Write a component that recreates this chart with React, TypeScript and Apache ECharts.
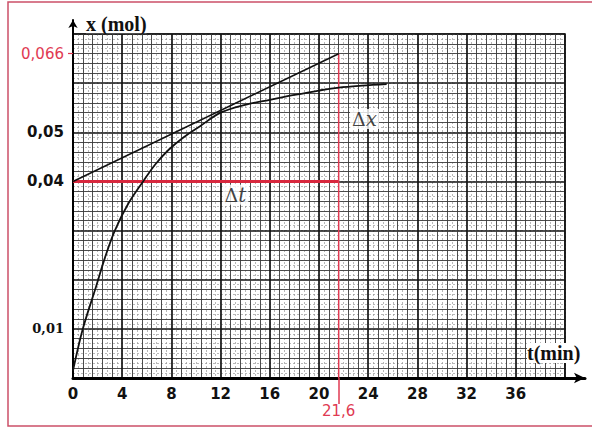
import React, { useEffect, useRef } from "react";
import * as echarts from "echarts";

// Curve x(t)
const T_MIN = [0, 0.8, 1.8, 2.6, 3.4, 4.5, 5.7, 6.7, 7.8, 9, 10.3, 12, 14, 16, 18, 20, 21.6, 23.5, 25.5];
const X_MOL = [0.0015, 0.01, 0.018, 0.0245, 0.03, 0.0355, 0.04, 0.0435, 0.0465, 0.049, 0.0512, 0.054, 0.0556, 0.0566, 0.0576, 0.0585, 0.0591, 0.0595, 0.0598];

// Tangent construction
const TANGENT_T = [0, 21.6];
const TANGENT_X = [0.04, 0.066];
const DELTA_T_T = [0, 21.6];
const DELTA_T_X = [0.04, 0.04];
const DELTA_X_T = [21.6, 21.6];
const DELTA_X_X = [0.066, 0];

// Annotation anchors
const DT_LABEL: [number, number] = [13.2, 0.0373];
const DX_LABEL: [number, number] = [23.7, 0.0527];

// Tick labels
const X_TICKS = [0, 4, 8, 12, 16, 20, 24, 28, 32, 36];
const X_READ = [21.6];
const X_READ_TEXT = ["21,6"];
const Y_TICKS = [0.01, 0.04, 0.05, 0.066];
const Y_TICK_TEXT = ["0,01", "0,04", "0,05", "0,066"];
const Y_TICK_STYLE = ["serif", "sans", "sans", "red"];

const RED = "#e03a52";

export default function App() {
  const ref = useRef<HTMLDivElement>(null);
  useEffect(() => {
    if (!ref.current) return;
    const chart = echarts.init(ref.current, undefined, { renderer: "svg" });
    const paperLeft = 73;
    const paperTop = 34;
    const paperBottom = 51;
    const paperRight = 27;
    const mainTop = 20;
    const mainRight = 7;
    const pxPerMin = (592 - paperLeft - paperRight) / 40;
    const paperH = 429 - paperTop - paperBottom;
    const pxPerMol = paperH / 0.07;
    const mainXMax = (592 - paperLeft - mainRight) / pxPerMin;
    const mainYMax = (429 - mainTop - paperBottom) / pxPerMol;

    const hidden = {
      axisLine: { show: false },
      axisTick: { show: false },
      axisLabel: { show: false },
    };

    const pair = (a: number[], b: number[]) => a.map((v, i) => [v, b[i]]);

    chart.setOption({
      animation: false,
      backgroundColor: "#ffffff",
      grid: [
        {
          left: paperLeft,
          right: paperRight,
          top: paperTop,
          bottom: paperBottom,
          show: true,
          borderColor: "#111",
          borderWidth: 1.6,
          backgroundColor: "transparent",
          containLabel: false,
          outerBoundsMode: "none",
        },
        {
          left: paperLeft,
          right: mainRight,
          top: mainTop,
          bottom: paperBottom,
          containLabel: false,
          outerBoundsMode: "none",
        },
      ],
      xAxis: [
        {
          gridIndex: 0, type: "value", min: 0, max: 40, interval: 0.4, z: 0,
          position: "bottom",
          ...hidden,
          splitLine: { show: true, lineStyle: { color: "#9a9a9a", width: 0.7, type: [2, 2] } },
        },
        {
          gridIndex: 0, type: "value", min: 0, max: 40, interval: 4, z: 1,
          position: "bottom",
          ...hidden,
          splitLine: { show: true, lineStyle: { color: "#151515", width: 1.7 } },
          minorTick: { show: false, splitNumber: 5 },
          minorSplitLine: { show: true, lineStyle: { color: "#3c3c3c", width: 0.9 } },
        },
        {
          gridIndex: 1, type: "value", min: 0, max: mainXMax, z: 3,
          position: "bottom",
          splitLine: { show: false },
          axisLine: {
            show: true,
            onZero: false,
            symbol: ["none", "arrow"],
            symbolSize: [8, 11],
            lineStyle: { color: "#000", width: 3 },
          },
          axisTick: { show: false },
          axisLabel: {
            show: true,
            customValues: X_TICKS,
            margin: 8,
            color: "#111",
            fontFamily: "DejaVu Sans",
            fontWeight: "bold",
            fontSize: 15,
          },
        },
        {
          gridIndex: 1, type: "value", min: 0, max: mainXMax, z: 3,
          position: "bottom",
          offset: 0,
          splitLine: { show: false },
          axisLine: { show: false, onZero: false },
          axisTick: {
            show: true,
            customValues: X_READ,
            length: 26,
            lineStyle: { color: RED, width: 1.5 },
          },
          axisLabel: {
            show: true,
            customValues: X_READ,
            margin: 25,
            color: RED,
            fontFamily: "DejaVu Sans",
            fontSize: 15,
            formatter: (v: number) => {
              const i = X_READ.findIndex((r) => Math.abs(r - v) < 1e-6);
              return i >= 0 ? X_READ_TEXT[i] : "";
            },
          },
        },
      ],
      yAxis: [
        {
          gridIndex: 0, type: "value", min: 0, max: 0.07, interval: 0.001, z: 0,
          position: "left",
          ...hidden,
          splitLine: { show: true, lineStyle: { color: "#9a9a9a", width: 0.7, type: [2, 2] } },
        },
        {
          gridIndex: 0, type: "value", min: 0, max: 0.07, interval: 0.01, z: 1,
          position: "left",
          ...hidden,
          splitLine: { show: true, lineStyle: { color: "#151515", width: 1.7 } },
          minorTick: { show: false, splitNumber: 5 },
          minorSplitLine: { show: true, lineStyle: { color: "#3c3c3c", width: 0.9 } },
        },
        {
          gridIndex: 1, type: "value", min: 0, max: mainYMax, z: 3,
          position: "left",
          splitLine: { show: false },
          axisLine: {
            show: true,
            onZero: false,
            symbol: ["none", "arrow"],
            symbolSize: [7, 8],
            lineStyle: { color: "#000", width: 2 },
          },
          axisTick: {
            show: true,
            customValues: [0.066],
            length: 5,
            lineStyle: { color: RED, width: 1.2 },
          },
          axisLabel: {
            show: true,
            customValues: Y_TICKS,
            margin: 9,
            formatter: (v: number) => {
              const i = Y_TICKS.findIndex((y) => Math.abs(y - v) < 1e-9);
              if (i < 0) return "";
              return `{${Y_TICK_STYLE[i]}|${Y_TICK_TEXT[i]}}`;
            },
            rich: {
              sans: { fontFamily: "DejaVu Sans", fontWeight: "bold", fontSize: 15, color: "#111" },
              serif: { fontFamily: "DejaVu Serif", fontWeight: "bold", fontSize: 13, color: "#111" },
              red: { fontFamily: "DejaVu Sans", fontSize: 15, color: RED },
            },
          },
        },
      ],
      series: [
        {
          name: "Δt",
          type: "line",
          xAxisIndex: 2, yAxisIndex: 2,
          data: pair(DELTA_T_T, DELTA_T_X),
          showSymbol: false,
          lineStyle: { color: "#d8283e", width: 3 },
          z: 4,
        },
        {
          name: "Δx",
          type: "line",
          xAxisIndex: 2, yAxisIndex: 2,
          data: pair(DELTA_X_T, DELTA_X_X),
          showSymbol: false,
          lineStyle: { color: RED, width: 1.5 },
          z: 4,
        },
        {
          name: "tangente",
          type: "line",
          xAxisIndex: 2, yAxisIndex: 2,
          data: pair(TANGENT_T, TANGENT_X),
          showSymbol: false,
          lineStyle: { color: "#111", width: 1.6 },
          z: 5,
        },
        {
          name: "x(t)",
          type: "line",
          xAxisIndex: 2, yAxisIndex: 2,
          data: pair(T_MIN, X_MOL),
          smooth: 0.35,
          showSymbol: false,
          lineStyle: { color: "#111", width: 1.8 },
          z: 5,
        },
        {
          name: "labels",
          type: "scatter",
          xAxisIndex: 2, yAxisIndex: 2,
          symbolSize: 1,
          itemStyle: { color: "rgba(0,0,0,0)" },
          z: 6,
          data: [
            { value: DT_LABEL, label: { formatter: "{d|Δ}{v|t}" } },
            { value: DX_LABEL, label: { formatter: "{d|Δ}{v|x}" } },
          ],
          label: {
            show: true,
            position: "inside",
            backgroundColor: "#ffffff",
            padding: [0, 2],
            rich: {
              d: { fontFamily: "DejaVu Serif", fontSize: 19, color: "#111" },
              v: { fontFamily: "DejaVu Serif", fontStyle: "italic", fontSize: 20, color: "#111" },
            },
          },
        },
      ],
      graphic: [
        {
          type: "rect",
          shape: { x: 8, y: 2, width: 590, height: 424 },
          style: { fill: "none", stroke: "#cc5068", lineWidth: 1.5 },
          silent: true,
        },
        {
          type: "text",
          x: 86,
          y: 24,
          style: {
            text: "x (mol)",
            fontFamily: "Liberation Serif",
            fontWeight: "bold",
            fontSize: 20,
            fill: "#111",
            verticalAlign: "middle",
            textAlign: "left",
            backgroundColor: "#fff",
          },
        },
        {
          type: "text",
          x: 527,
          y: 353,
          z: 10,
          style: {
            text: "t(min)",
            fontFamily: "Liberation Serif",
            fontWeight: "bold",
            fontSize: 20,
            fill: "#111",
            verticalAlign: "middle",
            textAlign: "left",
            backgroundColor: "#fff",
          },
        },
      ],
    });
    return () => chart.dispose();
  }, []);
  return (
    <div
      ref={ref}
      style={{ position: "absolute", left: 0, top: 0, width: 592, height: 429 }}
    />
  );
}
